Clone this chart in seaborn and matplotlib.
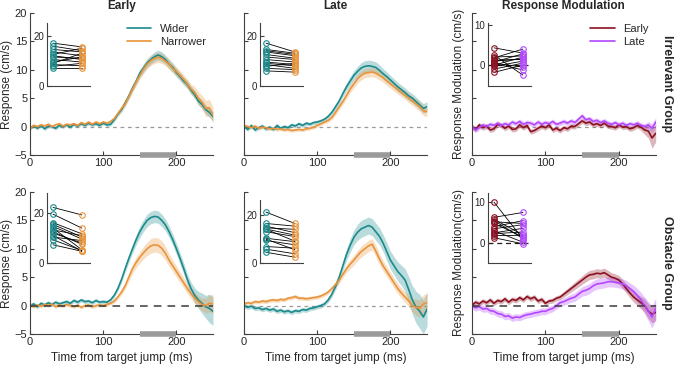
import numpy as np
import pandas as pd
import matplotlib
matplotlib.use("Agg")
import matplotlib.pyplot as plt
import seaborn as sns

# ---------------- data ----------------
time_ms = list(range(0, 251, 5))

# Irrelevant group, Early
irr_early_wider = [-0.2, 0.1, -0.3, 0.2, -0.4, 0.1, 0.0, -0.3, 0.2, 0.0, 0.3, -0.1, 0.4, 0.1, 0.5, 0.2, 0.6, 0.3, 0.5, 0.2,
                   0.6, 0.3, 0.4, 1.2, 2.2, 3.0, 4.2, 5.4, 6.8, 8.0, 9.4, 10.3, 11.2, 11.8, 12.3, 12.6, 12.3, 11.8, 11.0, 10.4,
                   9.5, 8.8, 8.0, 7.4, 6.4, 5.6, 4.5, 3.9, 3.0, 2.5, 1.8]
irr_early_wider_se = [0.3] * 23 + [0.35, 0.4, 0.45, 0.5, 0.55, 0.6, 0.65, 0.7, 0.75, 0.8, 0.8, 0.85, 0.85, 0.85, 0.8, 0.8,
                                   0.8, 0.75, 0.75, 0.7, 0.7, 0.7, 0.7, 0.7, 0.75, 0.8, 0.8, 0.8]
irr_early_narrow = [-0.4, 0.2, 0.0, 0.3, 0.1, 0.4, 0.0, 0.3, 0.5, 0.1, 0.4, 0.3, 0.5, 0.2, 0.7, 0.4, 0.8, 0.4, 0.8, 0.5,
                    0.8, 0.6, 0.9, 1.4, 2.3, 3.2, 4.0, 5.3, 6.6, 7.9, 9.0, 10.1, 11.0, 11.6, 12.0, 12.2, 12.0, 11.5, 11.0, 10.2,
                    9.7, 9.0, 8.3, 7.5, 6.6, 6.0, 5.0, 4.3, 3.2, 3.3, 2.0]
irr_early_narrow_se = [0.3] * 23 + [0.35, 0.4, 0.45, 0.5, 0.55, 0.6, 0.65, 0.7, 0.75, 0.8, 0.85, 0.9, 0.9, 0.9, 0.85, 0.85,
                                    0.8, 0.8, 0.8, 0.8, 0.85, 0.9, 1.0, 1.1, 1.2, 1.4, 1.5, 1.4]

# Irrelevant group, Late
irr_late_wider = [0.0, -0.5, 0.2, -0.6, -0.2, 0.1, -0.4, -0.1, -0.5, 0.2, -0.3, 0.0, -0.2, 0.3, 0.1, 0.5, 0.2, 0.6, 0.4, 0.7,
                  0.8, 1.0, 1.3, 1.8, 2.5, 3.5, 4.5, 5.8, 7.0, 8.0, 9.0, 9.7, 10.3, 10.6, 10.7, 10.6, 10.4, 9.9, 9.3, 8.8,
                  8.2, 7.6, 7.0, 6.5, 6.0, 5.4, 5.0, 4.4, 3.8, 3.2, 3.5]
irr_late_wider_se = [0.35] * 23 + [0.4, 0.45, 0.5, 0.55, 0.6, 0.7, 0.8, 0.85, 0.9, 0.95, 1.0, 1.0, 1.0, 1.0, 0.95, 0.9,
                                   0.85, 0.8, 0.8, 0.8, 0.8, 0.8, 0.8, 0.8, 0.8, 0.8, 0.85, 0.85]
irr_late_narrow = [0.2, 0.0, -0.2, 0.1, -0.3, -0.1, -0.2, -0.4, -0.3, -0.5, -0.4, -0.6, -0.5, -0.7, -0.6, -0.5, -0.6, -0.4, -0.3, -0.1,
                   0.2, 0.5, 0.8, 1.1, 1.6, 2.5, 3.5, 4.4, 5.5, 6.6, 7.5, 8.4, 9.0, 9.4, 9.5, 9.6, 9.4, 9.0, 8.6, 8.0,
                   7.5, 7.0, 6.5, 6.0, 5.5, 5.0, 4.5, 4.0, 3.5, 2.8, 2.6]
irr_late_narrow_se = [0.3] * 23 + [0.35, 0.4, 0.45, 0.5, 0.55, 0.6, 0.65, 0.7, 0.75, 0.8, 0.8, 0.8, 0.8, 0.8, 0.8, 0.8,
                                   0.75, 0.75, 0.75, 0.75, 0.75, 0.75, 0.75, 0.8, 0.8, 0.8, 0.85, 0.85]

# Irrelevant group, Response modulation
irr_mod_early = [0.0, -0.5, 0.3, -0.2, 0.1, -0.6, -0.4, 0.4, 0.2, -0.3, 0.1, -0.5, -0.4, 0.3, -0.2, 0.2, -0.9, -0.7, -0.3, 0.1,
                 -0.2, 0.3, -0.6, -0.3, -0.7, -0.2, -0.4, 0.1, 0.0, 0.5, 1.0, 0.6, 0.8, 0.3, 0.5, 0.2, 0.6, 0.1, 0.0, -0.2,
                 0.3, -0.1, 0.0, -0.4, -0.2, 0.2, -0.1, -0.6, -0.8, -2.0, -1.2]
irr_mod_early_se = [0.45] * 46 + [0.6, 0.8, 1.2, 1.8, 1.5]
irr_mod_late = [0.0, -0.6, -0.2, 0.3, 0.0, 0.4, 0.2, 0.6, 0.2, 0.5, 0.3, 0.8, 0.5, 0.9, 0.4, 0.7, 0.6, 0.3, 0.8, 0.4,
                0.7, 0.5, 0.9, 0.4, 0.6, 0.9, 0.6, 1.0, 0.7, 1.3, 1.9, 1.2, 1.4, 0.9, 1.1, 0.7, 1.0, 0.6, 0.4, 0.7,
                0.3, 0.6, 0.2, 0.5, 0.3, 0.6, 0.2, 0.0, 0.3, -0.3, 0.8]
irr_mod_late_se = [0.45] * 47 + [0.5, 0.6, 0.8, 0.8]

# Obstacle group, Early
obs_early_wider = [0.0, 0.3, -0.2, 0.4, 0.1, 0.5, 0.2, 0.6, 0.3, 0.5, 0.7, 0.4, 0.9, 0.6, 1.0, 0.7, 0.8, 0.5, 0.9, 0.6,
                   0.7, 0.6, 1.0, 1.8, 3.0, 4.6, 6.5, 8.3, 10.0, 11.6, 13.0, 14.1, 15.0, 15.5, 15.7, 15.6, 15.0, 14.2, 13.0, 11.6,
                   10.0, 8.3, 6.5, 4.6, 3.0, 1.8, 1.0, 0.4, -0.2, -0.5, -1.0]
obs_early_wider_se = [0.35] * 23 + [0.4, 0.45, 0.5, 0.6, 0.7, 0.8, 0.9, 1.0, 1.05, 1.1, 1.1, 1.1, 1.1, 1.1, 1.05, 1.0,
                                    1.0, 1.0, 1.0, 1.0, 1.0, 1.1, 1.3, 1.5, 1.8, 2.0, 2.5, 2.5]
obs_early_narrow = [0.2, -0.2, 0.1, -0.1, 0.2, 0.0, 0.3, -0.2, 0.1, -0.1, 0.2, 0.0, -0.2, 0.1, -0.3, 0.0, 0.1, -0.2, 0.0, 0.1,
                    0.0, 0.2, 0.4, 0.8, 1.5, 2.4, 3.5, 5.0, 6.5, 7.6, 8.5, 9.3, 10.0, 10.5, 10.7, 10.6, 10.1, 9.2, 8.0, 7.0,
                    6.0, 5.0, 4.0, 3.0, 2.1, 1.3, 0.7, 0.2, 0.0, 0.4, 0.3]
obs_early_narrow_se = [0.3] * 23 + [0.35, 0.4, 0.5, 0.6, 0.7, 0.8, 0.9, 1.0, 1.1, 1.2, 1.3, 1.3, 1.3, 1.3, 1.2, 1.1,
                                    1.0, 1.0, 0.95, 0.9, 0.9, 0.9, 0.95, 1.0, 1.1, 1.3, 1.5, 1.6]

# Obstacle group, Late
obs_late_wider = [0.0, -0.3, -0.1, -0.5, -0.4, -0.7, -0.5, -0.8, -0.6, -1.0, -0.8, -1.1, -0.9, -1.2, -0.9, -1.0, -0.7, -0.8, -0.5, -0.4,
                  -0.2, 0.0, 0.3, 1.0, 2.0, 3.4, 5.0, 7.0, 9.0, 10.6, 12.0, 12.9, 13.5, 13.8, 14.1, 13.8, 13.0, 12.2, 11.0, 9.5,
                  8.0, 7.0, 6.0, 5.3, 4.5, 2.8, 1.0, -0.3, -1.0, -2.0, -0.6]
obs_late_wider_se = [0.4] * 23 + [0.45, 0.5, 0.6, 0.7, 0.8, 1.0, 1.2, 1.3, 1.4, 1.5, 1.5, 1.5, 1.5, 1.5, 1.5, 1.5,
                                  1.6, 1.6, 1.6, 1.7, 1.8, 2.0, 2.3, 2.5, 2.8, 3.0, 3.0, 3.0]
obs_late_narrow = [0.3, 0.5, 0.4, 0.7, 0.6, 0.8, 0.7, 0.9, 1.0, 0.9, 1.1, 1.0, 1.3, 1.4, 1.6, 1.3, 1.3, 1.2, 1.3, 1.4,
                   1.5, 1.7, 2.0, 2.4, 3.0, 3.7, 4.5, 5.5, 6.5, 7.3, 8.0, 8.8, 9.5, 10.0, 10.5, 10.8, 9.6, 8.2, 7.0, 6.0,
                   5.0, 4.0, 3.0, 2.2, 1.5, 0.8, 0.0, -0.3, -0.5, 0.3, 0.5]
obs_late_narrow_se = [0.35] * 23 + [0.4, 0.45, 0.5, 0.55, 0.6, 0.7, 0.8, 0.85, 0.9, 1.0, 1.0, 1.0, 1.0, 1.0, 0.95, 0.9,
                                    0.9, 0.9, 0.9, 0.9, 0.9, 0.95, 1.0, 1.2, 1.4, 1.5, 1.6, 1.6]

# Obstacle group, Response modulation
obs_mod_early = [0.0, 0.6, 0.3, 0.8, 0.5, 1.0, 0.4, 0.9, 0.7, 1.2, 0.6, 1.1, 0.9, 1.4, 1.0, 1.6, 1.2, 1.5, 0.8, 1.1,
                 0.4, 0.8, 0.9, 1.3, 1.5, 2.0, 2.5, 3.0, 3.5, 4.0, 4.5, 5.0, 5.4, 5.5, 5.7, 5.6, 5.8, 5.4, 5.0, 4.8,
                 4.5, 3.8, 3.0, 2.2, 1.5, 1.0, 0.5, 0.0, -1.0, -1.5, -1.2]
obs_mod_early_se = [0.45] * 25 + [0.5, 0.55, 0.6, 0.65, 0.7, 0.75, 0.8, 0.8, 0.8, 0.8, 0.8, 0.8, 0.8, 0.8, 0.8,
                                  0.8, 0.8, 0.8, 0.85, 0.9, 1.0, 1.1, 1.2, 1.3, 1.5, 1.5]
obs_mod_late = [0.0, -0.4, -0.2, -0.6, -0.5, -0.9, -1.0, -1.4, -1.5, -1.9, -1.8, -2.2, -2.0, -2.1, -1.8, -1.6, -1.5, -1.3, -1.2, -1.0,
                -1.0, -0.7, -0.5, 0.0, 0.5, 0.7, 1.0, 1.3, 1.5, 2.0, 2.5, 2.7, 3.0, 3.5, 3.8, 3.9, 4.0, 4.2, 4.2, 4.1,
                4.0, 3.8, 3.5, 3.0, 2.5, 1.8, 1.0, 0.0, -1.0, -2.0, -0.5]
obs_mod_late_se = [0.6] * 25 + [0.65, 0.7, 0.7, 0.75, 0.8, 0.85, 0.9, 0.9, 0.9, 0.9, 0.9, 0.9, 0.9, 0.9, 0.9,
                                0.9, 0.9, 0.95, 1.0, 1.1, 1.2, 1.3, 1.5, 1.7, 2.0, 1.8]

# Insets (per-subject means)
ins_irr_early_wider = [17.0, 15.8, 14.5, 13.5, 12.5, 11.5, 10.5, 9.5, 8.5, 7.8, 7.0, 12.0, 9.0]
ins_irr_early_narrow = [15.5, 14.0, 13.5, 12.0, 15.0, 11.0, 9.5, 11.5, 8.0, 9.0, 7.0, 10.5, 13.0]
ins_irr_late_wider = [17.0, 14.5, 14.0, 12.5, 11.5, 10.5, 9.5, 8.5, 7.8, 7.0, 6.0, 13.5, 9.0]
ins_irr_late_narrow = [13.5, 13.0, 12.5, 11.0, 10.5, 9.5, 8.5, 7.0, 9.0, 6.5, 5.5, 12.0, 8.0]
ins_irr_mod_early = [4.3, 2.5, 1.8, 1.2, 0.8, 0.4, 0.0, -0.3, -1.0, -1.8, 1.0, 0.5, 2.0]
ins_irr_mod_late = [3.0, -2.5, 4.0, 1.5, 2.8, -1.2, 2.0, 1.0, 0.5, 0.0, 1.5, -0.5, 2.3]
ins_obs_early_wider = [22.3, 19.6, 16.2, 15.5, 14.7, 14.0, 13.3, 12.0, 11.0, 10.4, 9.3, 7.3, 12.5]
ins_obs_early_narrow = [19.3, 14.0, 11.7, 10.4, 9.6, 5.3, 11.0, 8.0, 4.8, 9.0, 5.0, 4.7, 7.5]
ins_obs_late_wider = [21.0, 16.3, 15.2, 14.5, 13.9, 12.9, 10.2, 9.8, 9.3, 6.8, 5.7, 4.4, 14.0]
ins_obs_late_narrow = [16.3, 15.2, 12.5, 13.9, 9.0, 10.9, 8.8, 5.5, 7.5, 6.1, 3.8, 2.4, 11.5]
ins_obs_mod_early = [10.0, 6.3, 5.8, 5.2, 4.8, 4.0, 3.0, 2.5, 2.3, 1.8, 1.3, 5.5, 3.5]
ins_obs_mod_late = [1.0, 7.5, 2.0, 4.8, 1.5, 5.5, 0.2, 3.6, 2.7, 1.9, -0.2, 1.1, 4.5]

col_titles = ["Early", "Late", "Response Modulation"]
row_titles = ["Irrelevant Group", "Obstacle Group"]
x_ticks = [0, 100, 200]
y_ticks = [-5, 0, 5, 10, 15, 20]

# ---------------- style ----------------
sns.set_theme(style="ticks")
plt.rcParams["font.family"] = ["Liberation Sans", "DejaVu Sans"]
TEAL = "#1b8a8c"
ORANGE = "#e8943a"
DRED = "#8c1020"
PURP = "#b347ff"
AXC = "#404040"

fig = plt.figure(figsize=(6.76, 3.67), dpi=100)

W = 0.2707
H = 0.387
lefts = [0.0444, 0.361, 0.698]
bottoms = [0.5777, 0.0899]


def style_axis(ax, fs=8):
    sns.despine(ax=ax)
    for s in ("left", "bottom"):
        ax.spines[s].set_color(AXC)
        ax.spines[s].set_linewidth(0.8)
    ax.tick_params(direction="in", length=3, width=0.8, colors=AXC, labelsize=fs, labelcolor="#262626", pad=2)


def main_panel(ax, y1, s1, c1, l1, y2, s2, c2, l2, zero_dark, show_leg):
    df = pd.DataFrame({"t": time_ms + time_ms, "v": y1 + y2,
                       "cond": [l1] * len(time_ms) + [l2] * len(time_ms)})
    for y, s, c in ((y1, s1, c1), (y2, s2, c2)):
        y = np.array(y); s = np.array(s)
        ax.fill_between(time_ms, y - s, y + s, color=c, alpha=0.3, lw=0)
    sns.lineplot(data=df, x="t", y="v", hue="cond", palette={l1: c1, l2: c2},
                 ax=ax, lw=1.2, legend=show_leg)
    if zero_dark:
        ax.axhline(0, color="#3a3a3a", lw=1.1, ls=(0, (5, 4)), zorder=3)
    else:
        ax.axhline(0, color="#9a9a9a", lw=0.9, ls=(0, (3, 3)), zorder=0.5)
    ax.plot([150, 200], [-5, -5], color="#9a9a9a", lw=4, solid_capstyle="butt", clip_on=False, zorder=5)
    ax.set_xlim(0, 250)
    ax.set_ylim(-5, 20)
    ax.set_xticks(x_ticks)
    ax.set_yticks(y_ticks)
    ax.set_xlabel("")
    ax.set_ylabel("")
    style_axis(ax)
    if show_leg:
        ax.legend(loc="upper right", frameon=False, fontsize=8, handlelength=2.2,
                  borderaxespad=0.2, labelspacing=0.3, bbox_to_anchor=(1.0, 0.97))


def inset(ax, a, b, ca, cb, ylim, yt, zero=False):
    for va, vb in zip(a, b):
        ax.plot([1, 2], [va, vb], color="black", lw=0.6, zorder=2)
    ax.plot([1] * len(a), a, ls="none", marker="o", ms=4, mfc="none", mec=ca, mew=0.8, zorder=3)
    ax.plot([2] * len(b), b, ls="none", marker="o", ms=4, mfc="none", mec=cb, mew=0.8, zorder=3)
    if zero:
        ax.axhline(0, color="#222222", lw=0.9, ls=(0, (4, 3)), zorder=1)
    ax.set_xlim(0.79, 2.28)
    ax.set_ylim(*ylim)
    ax.set_xticks([])
    ax.set_yticks(yt)
    ax.patch.set_alpha(0)
    style_axis(ax, fs=7)


panels = [
    [(irr_early_wider, irr_early_wider_se, TEAL, "Wider", irr_early_narrow, irr_early_narrow_se, ORANGE, "Narrower"),
     (irr_late_wider, irr_late_wider_se, TEAL, "Wider", irr_late_narrow, irr_late_narrow_se, ORANGE, "Narrower"),
     (irr_mod_early, irr_mod_early_se, DRED, "Early", irr_mod_late, irr_mod_late_se, PURP, "Late")],
    [(obs_early_wider, obs_early_wider_se, TEAL, "Wider", obs_early_narrow, obs_early_narrow_se, ORANGE, "Narrower"),
     (obs_late_wider, obs_late_wider_se, TEAL, "Wider", obs_late_narrow, obs_late_narrow_se, ORANGE, "Narrower"),
     (obs_mod_early, obs_mod_early_se, DRED, "Early", obs_mod_late, obs_mod_late_se, PURP, "Late")],
]
zero_dark = [[False, False, False], [True, False, True]]
legends = [[True, False, True], [False, False, False]]

insets = [
    [(ins_irr_early_wider, ins_irr_early_narrow, TEAL, ORANGE, (0, 25), [0, 20], False),
     (ins_irr_late_wider, ins_irr_late_narrow, TEAL, ORANGE, (0, 25), [0, 20], False),
     (ins_irr_mod_early, ins_irr_mod_late, DRED, PURP, (-5.2, 10.5), [0, 10], True)],
    [(ins_obs_early_wider, ins_obs_early_narrow, TEAL, ORANGE, (0, 28), [0, 20], False),
     (ins_obs_late_wider, ins_obs_late_narrow, TEAL, ORANGE, (0, 26), [0, 20], False),
     (ins_obs_mod_early, ins_obs_mod_late, DRED, PURP, (-4.9, 12.2), [0, 10], True)],
]
inset_lefts = [0.0695, 0.3846, 0.7219]
inset_rects = [(0.7657, 0.1717), (0.2834, 0.19)]

for r in range(2):
    for c in range(3):
        ax = fig.add_axes([lefts[c], bottoms[r], W if c < 2 else 0.272, H])
        main_panel(ax, *panels[r][c], zero_dark[r][c], legends[r][c])
        if c > 0:
            ax.set_yticklabels([])
        if r == 0:
            ax.set_title(col_titles[c], fontsize=8.5, fontweight="bold", pad=3)
        else:
            ax.set_xlabel("Time from target jump (ms)", fontsize=8.5, labelpad=4)
        if c == 0:
            ax.set_ylabel("Response (cm/s)", fontsize=8.5, labelpad=1)
        if c == 2:
            ax.set_ylabel("Response Modulation (cm/s)" if r == 0 else "Response Modulation(cm/s)",
                          fontsize=8.5, labelpad=3)
            ax.text(1.03, 0.5, row_titles[r], transform=ax.transAxes, rotation=-90,
                    fontsize=9, fontweight="bold", va="center", ha="left")
        ib, ih = inset_rects[r]
        if r == 1 and c == 1:
            ib, ih = 0.2834, 0.1717
        iax = fig.add_axes([inset_lefts[c], ib, 0.0636, ih])
        inset(iax, *insets[r][c])

fig.savefig("out.png", dpi=100)
